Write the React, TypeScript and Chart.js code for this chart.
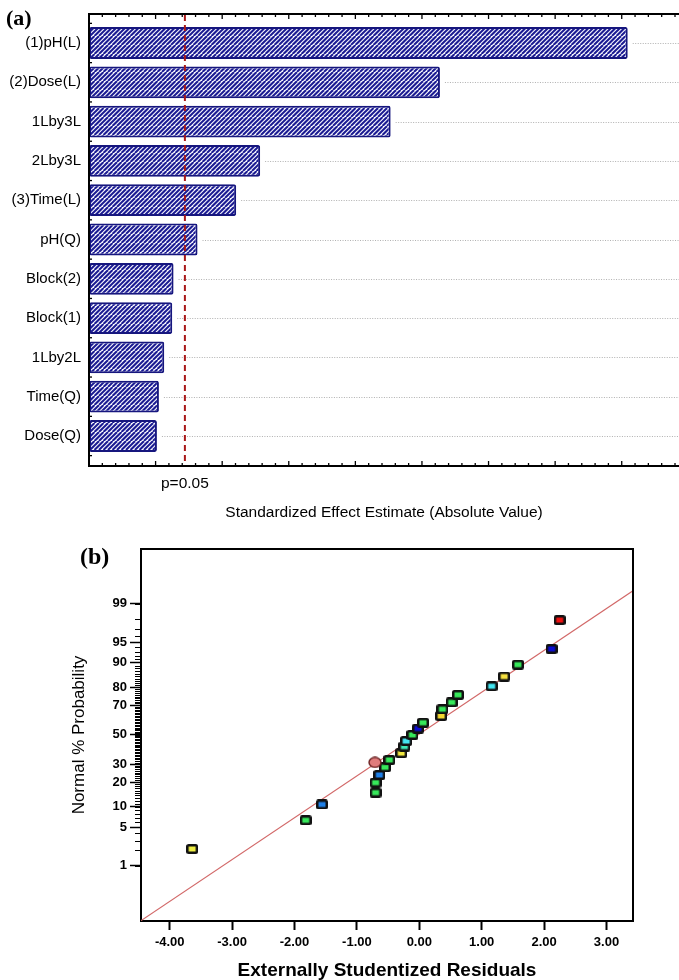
import React, { useEffect, useRef } from 'react';
import { Chart, registerables } from 'chart.js';

Chart.register(...registerables);

// ---------- Panel (a): Pareto chart of standardized effects ----------
const effectLabels = ['(1)pH(L)', '(2)Dose(L)', '1Lby3L', '2Lby3L', '(3)Time(L)', 'pH(Q)', 'Block(2)', 'Block(1)', '1Lby2L', 'Time(Q)', 'Dose(Q)'];
const effectValues = [8.09, 5.27, 4.53, 2.57, 2.21, 1.63, 1.27, 1.25, 1.13, 1.05, 1.02];
const significanceValue = 1.44;
const significanceLabel = 'p=0.05';
const effectAxisMin = 0;
const effectAxisMax = 8.86;
const effectAxisTitle = 'Standardized Effect Estimate (Absolute Value)';

// ---------- Panel (b): normal probability plot of residuals ----------
const residualValues = [-3.64, -1.82, -1.56, -0.70, -0.70, -0.64, -0.55, -0.71, -0.48, -0.29, -0.24, -0.21, -0.11, -0.02, 0.06, 0.35, 0.37, 0.52, 0.62, 1.16, 1.36, 1.58, 2.12, 2.25];
const probabilityValues = [2.12, 6.42, 10.75, 15.15, 19.7, 23.7, 28.1, 31.1, 32.7, 37.1, 41.6, 45.5, 49.8, 54.3, 58.4, 63.0, 67.4, 71.7, 76.0, 80.5, 84.9, 89.3, 93.6, 97.9];
const pointColors = ['#eeee44', '#36e85a', '#1f80e8', '#36e85a', '#36e85a', '#1f80e8', '#36e85a', '#e07c7c', '#36e85a', '#f2e840', '#3ee8b8', '#44e4f0', '#36e85a', '#0c0cd0', '#36e85a', '#f5d830', '#36e85a', '#36e85a', '#36e85a', '#44e4f0', '#f5e040', '#36e85a', '#0c0cd0', '#f01010'];
const pointShapes = ['rect', 'rect', 'rect', 'rect', 'rect', 'rect', 'rect', 'circle', 'rect', 'rect', 'rect', 'rect', 'rect', 'rect', 'rect', 'rect', 'rect', 'rect', 'rect', 'rect', 'rect', 'rect', 'rect', 'rect'];
const residualTicks = [-4, -3, -2, -1, 0, 1, 2, 3];
const probabilityTicks = [1, 5, 10, 20, 30, 50, 70, 80, 90, 95, 99];
const referenceLineResiduals = [-4.46, 3.425];
const referenceLineProbabilities = [0.048, 99.47];
const residualAxisMin = -4.46;
const residualAxisMax = 3.425;
const probabilityAxisMin = 0.0468;
const probabilityAxisMax = 99.951;
const residualAxisTitle = 'Externally Studentized Residuals';
const probabilityAxisTitle = 'Normal % Probability';

const FONT = "'Liberation Sans', Arial, sans-serif";
const SERIF = "'Liberation Serif', 'Times New Roman', serif";

// inverse standard normal CDF (probability scale transform)
function probit(p: number): number {
  const a = [-3.969683028665376e1, 2.209460984245205e2, -2.759285104469687e2, 1.38357751867269e2, -3.066479806614716e1, 2.506628277459239];
  const b = [-5.447609879822406e1, 1.615858368580409e2, -1.556989798598866e2, 6.680131188771972e1, -1.328068155288572e1];
  const c = [-7.784894002430293e-3, -3.223964580411365e-1, -2.400758277161838, -2.549732539343734, 4.374664141464968, 2.938163982698783];
  const d = [7.784695709041462e-3, 3.224671290700398e-1, 2.445134137142996, 3.754408661907416];
  const pl = 0.02425;
  if (p < pl) {
    const q = Math.sqrt(-2 * Math.log(p));
    return (((((c[0] * q + c[1]) * q + c[2]) * q + c[3]) * q + c[4]) * q + c[5]) / ((((d[0] * q + d[1]) * q + d[2]) * q + d[3]) * q + 1);
  }
  if (p > 1 - pl) {
    const q = Math.sqrt(-2 * Math.log(1 - p));
    return -(((((c[0] * q + c[1]) * q + c[2]) * q + c[3]) * q + c[4]) * q + c[5]) / ((((d[0] * q + d[1]) * q + d[2]) * q + d[3]) * q + 1);
  }
  const q = p - 0.5;
  const r = q * q;
  return ((((((a[0] * r + a[1]) * r + a[2]) * r + a[3]) * r + a[4]) * r + a[5]) * q) / (((((b[0] * r + b[1]) * r + b[2]) * r + b[3]) * r + b[4]) * r + 1);
}
const pz = (percent: number) => probit(percent / 100);

function makeHatch(): CanvasPattern {
  const c = document.createElement('canvas');
  c.width = 9;
  c.height = 9;
  const g = c.getContext('2d')!;
  g.fillStyle = '#fafaff';
  g.fillRect(0, 0, 9, 9);
  g.strokeStyle = '#1a1a92';
  g.lineWidth = 2;
  for (const off of [-9, -4.5, 0, 4.5, 9]) {
    g.beginPath();
    g.moveTo(off, 9);
    g.lineTo(off + 9, 0);
    g.stroke();
  }
  return g.createPattern(c, 'repeat')!;
}

function makeMarker(color: string, shape: string): HTMLCanvasElement {
  const c = document.createElement('canvas');
  if (shape === 'circle') {
    c.width = 14;
    c.height = 12;
    const g2 = c.getContext('2d')!;
    g2.fillStyle = color;
    g2.strokeStyle = '#6a2020';
    g2.lineWidth = 1.4;
    g2.beginPath();
    g2.ellipse(7, 6, 6, 5, 0, 0, Math.PI * 2);
    g2.fill();
    g2.stroke();
    return c;
  }
  c.width = 12;
  c.height = 10;
  const g3 = c.getContext('2d')!;
  g3.fillStyle = '#111';
  g3.beginPath();
  (g3 as any).roundRect(0, 0, 12, 10, 2.5);
  g3.fill();
  g3.fillStyle = color;
  g3.fillRect(2.5, 2.5, 7, 5);
  return c;
}

const paretoDecor = {
  id: 'paretoDecor',
  beforeDatasetsDraw(chart: any) {
    const { ctx, chartArea: a } = chart;
    const meta = chart.getDatasetMeta(0);
    ctx.save();
    ctx.strokeStyle = '#b0b0b0';
    ctx.lineWidth = 1;
    ctx.setLineDash([1, 1.5]);
    meta.data.forEach((bar: any) => {
      const y = Math.round(bar.y) + 0.5;
      ctx.beginPath();
      ctx.moveTo(bar.x + 5, y);
      ctx.lineTo(a.right, y);
      ctx.stroke();
    });
    ctx.restore();
  },
  afterDatasetsDraw(chart: any) {
    const { ctx, chartArea: a, scales } = chart;
    const x = scales.x;
    const yS = scales.y;
    const top = a.top - 9.35;
    const bottom = a.bottom + 10.35;
    ctx.save();
    // significance line
    const px = x.getPixelForValue(significanceValue);
    ctx.strokeStyle = '#a81818';
    ctx.lineWidth = 2;
    ctx.setLineDash([6, 4]);
    ctx.beginPath();
    ctx.moveTo(px, top + 1);
    ctx.lineTo(px, bottom - 1);
    ctx.stroke();
    ctx.setLineDash([]);
    // frame
    ctx.strokeStyle = '#000';
    ctx.lineWidth = 2;
    ctx.beginPath();
    ctx.moveTo(a.right + 2, top);
    ctx.lineTo(a.left, top);
    ctx.lineTo(a.left, bottom);
    ctx.lineTo(a.right + 2, bottom);
    ctx.stroke();
    // axis ticks (top and bottom, inward)
    ctx.lineWidth = 1.3;
    for (let k = 0; ; k++) {
      const v = effectAxisMin + k * 0.2;
      if (v > effectAxisMax) break;
      const p = x.getPixelForValue(v);
      const len = k % 5 === 0 ? 5 : 3;
      ctx.beginPath();
      ctx.moveTo(p, top);
      ctx.lineTo(p, top + len);
      ctx.moveTo(p, bottom);
      ctx.lineTo(p, bottom - len);
      ctx.stroke();
    }
    // small ticks on left axis at category boundaries
    for (let i = 0; i <= effectLabels.length; i++) {
      const py = yS.getPixelForValue(i - 0.5);
      ctx.beginPath();
      ctx.moveTo(a.left, py);
      ctx.lineTo(a.left + 3, py);
      ctx.stroke();
    }
    ctx.restore();
  },
  afterDraw(chart: any) {
    const { ctx } = chart;
    ctx.save();
    ctx.fillStyle = '#000';
    ctx.font = `bold 22px ${SERIF}`;
    ctx.textBaseline = 'alphabetic';
    ctx.textAlign = 'left';
    ctx.fillText('(a)', 6, 25);
    ctx.restore();
  },
};

const normalDecor = {
  id: 'normalDecor',
  afterDraw(chart: any) {
    const { ctx, chartArea: a, scales } = chart;
    const y = scales.y;
    ctx.save();
    ctx.strokeStyle = '#000';
    ctx.lineWidth = 2;
    ctx.beginPath();
    ctx.moveTo(a.left, a.top);
    ctx.lineTo(a.right, a.top);
    ctx.lineTo(a.right, a.bottom);
    ctx.stroke();
    ctx.lineWidth = 1;
    for (let p = 1; p <= 99; p++) {
      const py = Math.round(y.getPixelForValue(pz(p))) + 0.5;
      ctx.beginPath();
      ctx.moveTo(a.left - 6, py);
      ctx.lineTo(a.left, py);
      ctx.stroke();
    }
    ctx.fillStyle = '#000';
    ctx.font = `bold 24px ${SERIF}`;
    ctx.textAlign = 'left';
    ctx.textBaseline = 'alphabetic';
    ctx.fillText('(b)', 80, 33.5);
    ctx.restore();
  },
};

export default function App() {
  const refA = useRef<HTMLCanvasElement | null>(null);
  const refB = useRef<HTMLCanvasElement | null>(null);

  useEffect(() => {
    const hatch = makeHatch();
    const chartA = new Chart(refA.current as HTMLCanvasElement, {
      type: 'bar',
      data: {
        labels: effectLabels,
        datasets: [
          {
            data: effectValues,
            backgroundColor: hatch as any,
            borderColor: '#16167e',
            borderWidth: 2,
            borderRadius: 2,
            borderSkipped: false,
            barPercentage: 0.81,
            categoryPercentage: 1,
          },
        ],
      },
      options: {
        indexAxis: 'y',
        responsive: false,
        animation: false,
        devicePixelRatio: 1,
        layout: { padding: { top: 23.35, left: 0, right: 0, bottom: 0 } },
        plugins: { legend: { display: false }, tooltip: { enabled: false } },
        scales: {
          y: {
            type: 'category',
            offset: true,
            grid: { display: false, drawTicks: false },
            border: { display: false },
            ticks: { color: '#000', font: { family: FONT, size: 15 }, padding: 8 },
            afterFit: (s: any) => {
              s.width = 89;
            },
          },
          x: {
            type: 'linear',
            min: effectAxisMin,
            max: effectAxisMax,
            grid: { display: false, drawTicks: false },
            border: { display: false },
            afterBuildTicks: (s: any) => {
              s.ticks = [{ value: significanceValue }];
            },
            ticks: {
              autoSkip: false,
              maxRotation: 0,
              color: '#000',
              font: { family: FONT, size: 15.5 },
              padding: 19,
              callback: () => significanceLabel,
            },
            title: {
              display: true,
              text: effectAxisTitle,
              color: '#000',
              font: { family: FONT, size: 15.5 },
              padding: { top: 0, bottom: 7.7 },
            },
            afterFit: (s: any) => {
              s.height = 74.35;
            },
          },
        },
      } as any,
      plugins: [paretoDecor],
    });

    const markers = pointColors.map((c, i) => makeMarker(c, pointShapes[i]));
    const chartB = new Chart(refB.current as HTMLCanvasElement, {
      type: 'scatter',
      data: {
        datasets: [
          {
            data: residualValues.map((r, i) => ({ x: r, y: pz(probabilityValues[i]) })),
            pointStyle: markers as any,
            pointRadius: 5,
            order: 0,
          },
          {
            data: referenceLineResiduals.map((r, i) => ({ x: r, y: pz(referenceLineProbabilities[i]) })),
            showLine: true,
            borderColor: '#d26868',
            borderWidth: 1.2,
            pointRadius: 0,
            order: 1,
          },
        ],
      },
      options: {
        responsive: false,
        animation: false,
        devicePixelRatio: 1,
        layout: { padding: { top: 19, left: 0, right: 46, bottom: 0 } },
        plugins: { legend: { display: false }, tooltip: { enabled: false } },
        scales: {
          x: {
            type: 'linear',
            min: residualAxisMin,
            max: residualAxisMax,
            afterBuildTicks: (s: any) => {
              s.ticks = residualTicks.map((v) => ({ value: v }));
            },
            grid: { display: true, drawOnChartArea: false, drawTicks: true, tickLength: 9, tickWidth: 2, tickColor: '#000' },
            border: { display: true, color: '#000', width: 2 },
            ticks: {
              autoSkip: false,
              maxRotation: 0,
              color: '#000',
              font: { family: FONT, size: 13, weight: 'bold' },
              padding: 5,
              callback: (v: any) => Number(v).toFixed(2),
            },
            title: {
              display: true,
              text: residualAxisTitle,
              color: '#000',
              font: { family: FONT, size: 19, weight: 'bold', lineHeight: 1 },
              padding: { top: 0, bottom: 0 },
            },
            afterFit: (s: any) => {
              s.height = 59;
            },
          },
          y: {
            type: 'linear',
            min: pz(probabilityAxisMin),
            max: pz(probabilityAxisMax),
            afterBuildTicks: (s: any) => {
              s.ticks = probabilityTicks.map((p) => ({ value: pz(p) }));
            },
            grid: { display: true, drawOnChartArea: false, drawTicks: true, tickLength: 11, tickWidth: 1.5, tickColor: '#000' },
            border: { display: true, color: '#000', width: 2 },
            ticks: {
              autoSkip: false,
              color: '#000',
              font: { family: FONT, size: 13, weight: 'bold' },
              padding: 3,
              callback: (_v: any, i: number) => String(probabilityTicks[i]),
            },
            title: {
              display: true,
              text: probabilityAxisTitle,
              color: '#000',
              font: { family: FONT, size: 17 },
              padding: { top: 68.8, bottom: 0 },
            },
            afterFit: (s: any) => {
              s.width = 141;
            },
          },
        },
      } as any,
      plugins: [normalDecor],
    });

    return () => {
      chartA.destroy();
      chartB.destroy();
    };
  }, []);

  return (
    <div style={{ width: 679, background: '#fff' }}>
      <style>{'body{margin:0;background:#fff;}'}</style>
      <canvas ref={refA} width={679} height={530} style={{ display: 'block', width: 679, height: 530 }} />
      <canvas ref={refB} width={679} height={450} style={{ display: 'block', width: 679, height: 450 }} />
    </div>
  );
}
